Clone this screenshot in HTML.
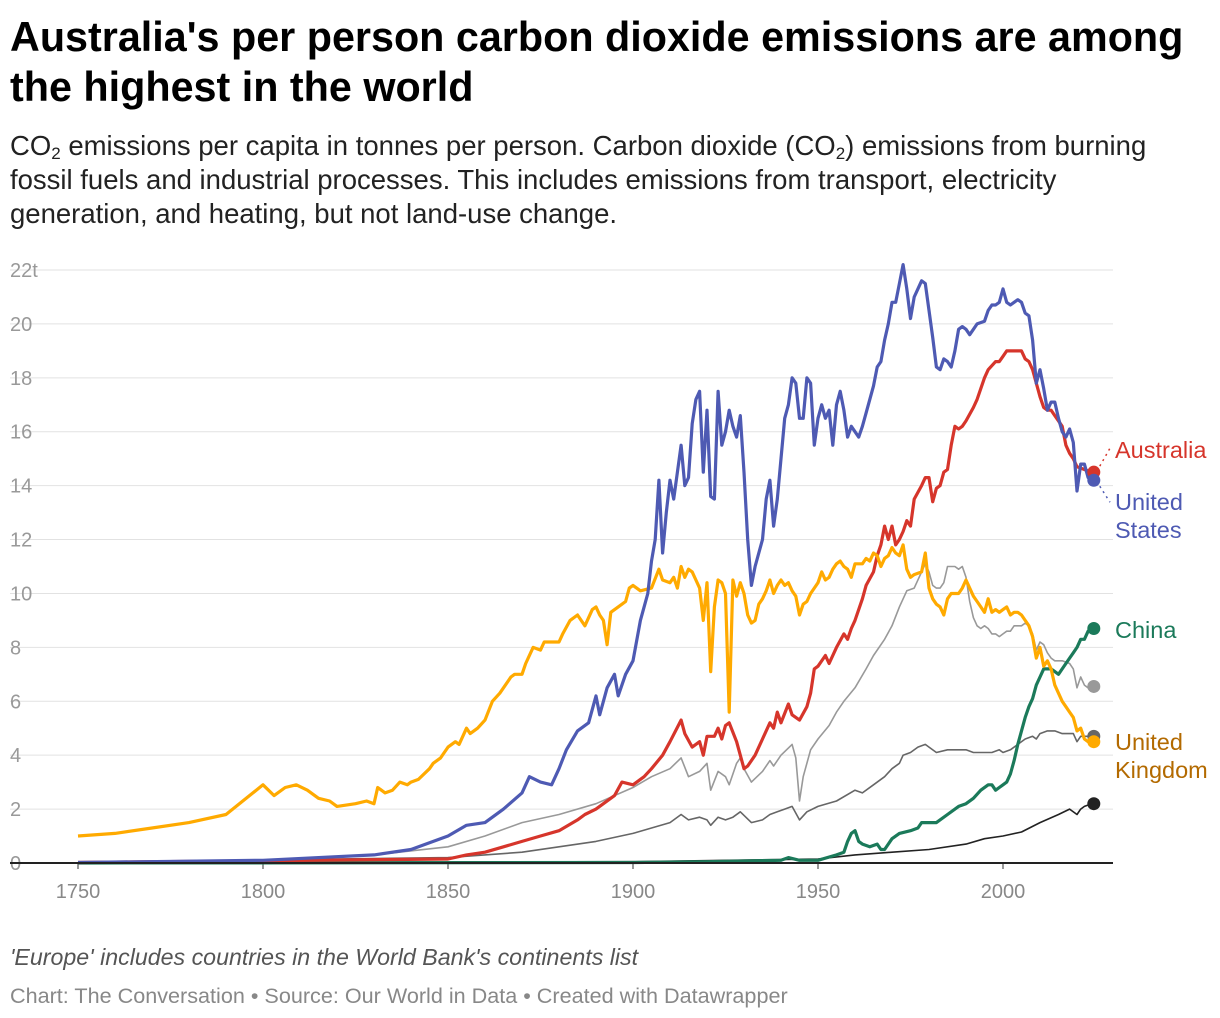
<!DOCTYPE html>
<html><head><meta charset="utf-8">
<style>
body{margin:0;background:#fff;width:1220px;height:1018px;overflow:hidden;font-family:"Liberation Sans",Arial,sans-serif;}
#title{position:absolute;left:10px;top:12px;font-size:41.3px;font-weight:bold;line-height:50px;color:#000;white-space:nowrap}
#sub{position:absolute;left:10px;top:129px;font-size:27.5px;line-height:34px;color:#222;white-space:nowrap}
#sub sub{font-size:17px;line-height:0;vertical-align:-4px}
#note{position:absolute;left:10px;top:944px;font-size:23.2px;font-style:italic;color:#555}
#foot{position:absolute;left:10px;top:983px;font-size:21.6px;color:#888}
svg{position:absolute;left:0;top:0}
</style></head><body>
<div id="title">Australia's per person carbon dioxide emissions are among<br>the highest in the world</div>
<div id="sub">CO<sub>2</sub> emissions per capita in tonnes per person. Carbon dioxide (CO<sub>2</sub>) emissions from burning<br>fossil fuels and industrial processes. This includes emissions from transport, electricity<br>generation, and heating, but not land-use change.</div>
<svg id="chart" width="1220" height="1018"></svg>
<div id="note">'Europe' includes countries in the World Bank's continents list</div>
<div id="foot">Chart: The Conversation • Source: Our World in Data • Created with Datawrapper</div>
<script>
const yTicks=[0,2,4,6,8,10,12,14,16,18,20,22];
const xTicks=[1750,1800,1850,1900,1950,2000];
const seriesNames=["Europe","World","Asia","China","Australia","United Kingdom","United States"];
const europe=[[1750,0.05],[1800,0.1],[1830,0.3],[1850,0.6],[1860,1.0],[1870,1.5],[1880,1.8],[1890,2.2],[1900,2.8],[1905,3.2],[1910,3.5],[1913,3.9],[1915,3.2],[1918,3.4],[1920,3.7],[1921,2.7],[1923,3.4],[1925,3.2],[1926,2.9],[1928,3.7],[1929,3.9],[1930,3.5],[1932,3.0],[1935,3.4],[1937,3.8],[1938,3.6],[1940,4.0],[1943,4.4],[1944,3.9],[1945,2.3],[1946,3.2],[1948,4.2],[1950,4.6],[1953,5.1],[1955,5.6],[1957,6.0],[1960,6.5],[1963,7.2],[1965,7.7],[1968,8.3],[1970,8.8],[1972,9.5],[1974,10.1],[1976,10.2],[1978,10.8],[1979,11.1],[1980,10.8],[1981,10.3],[1982,10.2],[1983,10.2],[1984,10.4],[1985,11.0],[1987,11.0],[1988,10.9],[1989,11.0],[1990,10.6],[1991,9.7],[1992,9.1],[1993,8.8],[1994,8.7],[1995,8.8],[1996,8.7],[1997,8.5],[1998,8.5],[1999,8.4],[2000,8.5],[2001,8.6],[2002,8.6],[2003,8.8],[2004,8.8],[2005,8.8],[2006,8.9],[2007,8.8],[2008,8.5],[2009,7.9],[2010,8.2],[2011,8.1],[2012,7.8],[2013,7.6],[2014,7.5],[2016,7.5],[2018,7.4],[2019,7.2],[2020,6.5],[2021,6.9],[2022,6.6],[2023,6.5],[2024,6.55]];
const world=[[1750,0.03],[1850,0.2],[1870,0.4],[1880,0.6],[1890,0.8],[1900,1.1],[1905,1.3],[1910,1.5],[1913,1.8],[1915,1.6],[1918,1.7],[1920,1.6],[1921,1.4],[1923,1.7],[1925,1.6],[1927,1.7],[1929,1.9],[1932,1.5],[1935,1.6],[1937,1.8],[1939,1.9],[1941,2.0],[1943,2.1],[1945,1.6],[1947,1.9],[1950,2.1],[1955,2.3],[1960,2.7],[1962,2.6],[1965,2.9],[1968,3.2],[1970,3.5],[1972,3.7],[1973,4.0],[1975,4.1],[1977,4.3],[1979,4.4],[1980,4.3],[1982,4.1],[1985,4.2],[1990,4.2],[1992,4.1],[1997,4.1],[1999,4.2],[2000,4.1],[2002,4.2],[2004,4.4],[2006,4.6],[2008,4.7],[2009,4.6],[2010,4.8],[2012,4.9],[2014,4.9],[2016,4.8],[2019,4.8],[2020,4.5],[2021,4.7],[2024,4.7]];
const asia=[[1750,0.01],[1900,0.05],[1950,0.15],[1960,0.3],[1970,0.4],[1980,0.5],[1990,0.7],[1995,0.9],[2000,1.0],[2005,1.15],[2010,1.5],[2015,1.8],[2018,2.0],[2020,1.8],[2021,2.0],[2022,2.1],[2024,2.2]];
const china=[[1750,0.0],[1900,0.02],[1920,0.05],[1940,0.1],[1942,0.2],[1945,0.1],[1950,0.1],[1955,0.3],[1957,0.4],[1958,0.8],[1959,1.1],[1960,1.2],[1961,0.8],[1962,0.7],[1964,0.6],[1966,0.7],[1967,0.5],[1968,0.5],[1969,0.7],[1970,0.9],[1972,1.1],[1975,1.2],[1977,1.3],[1978,1.5],[1980,1.5],[1982,1.5],[1985,1.8],[1988,2.1],[1990,2.2],[1992,2.4],[1994,2.7],[1996,2.9],[1997,2.9],[1998,2.7],[1999,2.8],[2000,2.9],[2001,3.0],[2002,3.3],[2003,3.8],[2004,4.4],[2005,4.9],[2006,5.4],[2007,5.8],[2008,6.1],[2009,6.6],[2010,6.9],[2011,7.2],[2013,7.2],[2014,7.1],[2015,7.0],[2016,7.2],[2017,7.4],[2018,7.6],[2019,7.8],[2020,8.0],[2021,8.3],[2022,8.3],[2023,8.6],[2024,8.7]];
const australia=[[1750,0.02],[1850,0.15],[1855,0.3],[1860,0.4],[1865,0.6],[1870,0.8],[1875,1.0],[1880,1.2],[1885,1.6],[1887,1.8],[1890,2.0],[1895,2.5],[1897,3.0],[1900,2.9],[1903,3.2],[1905,3.5],[1908,4.0],[1910,4.5],[1913,5.3],[1914,4.8],[1916,4.3],[1918,4.5],[1919,4.0],[1920,4.7],[1922,4.7],[1923,5.0],[1924,4.6],[1925,5.1],[1926,5.2],[1928,4.5],[1930,3.5],[1931,3.6],[1933,4.0],[1935,4.6],[1937,5.2],[1938,5.0],[1939,5.6],[1940,5.2],[1942,5.9],[1943,5.5],[1945,5.3],[1947,5.8],[1948,6.3],[1949,7.2],[1950,7.3],[1952,7.7],[1953,7.4],[1955,8.0],[1957,8.5],[1958,8.3],[1959,8.7],[1960,9.0],[1962,9.8],[1963,10.3],[1965,10.8],[1966,11.4],[1967,11.8],[1968,12.5],[1969,12.0],[1970,12.5],[1971,11.8],[1972,12.0],[1973,12.3],[1974,12.7],[1975,12.5],[1976,13.5],[1978,14.0],[1979,14.3],[1980,14.3],[1981,13.4],[1982,13.9],[1983,14.0],[1984,14.5],[1985,14.6],[1986,15.5],[1987,16.2],[1988,16.1],[1989,16.2],[1990,16.4],[1992,16.9],[1993,17.2],[1995,18.0],[1996,18.3],[1998,18.6],[1999,18.6],[2000,18.8],[2001,19.0],[2005,19.0],[2006,18.7],[2007,18.6],[2008,18.3],[2009,17.8],[2010,17.3],[2011,16.9],[2012,16.8],[2013,16.8],[2014,16.6],[2015,16.4],[2016,16.2],[2017,15.5],[2018,15.2],[2019,15.0],[2020,14.7],[2022,14.6],[2024,14.5]];
const uk=[[1750,1.0],[1760,1.1],[1770,1.3],[1780,1.5],[1790,1.8],[1800,2.9],[1803,2.5],[1806,2.8],[1809,2.9],[1812,2.7],[1815,2.4],[1818,2.3],[1820,2.1],[1825,2.2],[1828,2.3],[1830,2.2],[1831,2.8],[1833,2.6],[1835,2.7],[1837,3.0],[1839,2.9],[1840,3.0],[1842,3.1],[1845,3.5],[1846,3.7],[1848,3.9],[1850,4.3],[1852,4.5],[1853,4.4],[1855,5.0],[1856,4.8],[1858,5.0],[1860,5.3],[1862,6.0],[1864,6.3],[1865,6.5],[1867,6.9],[1868,7.0],[1870,7.0],[1871,7.4],[1873,8.0],[1875,7.9],[1876,8.2],[1880,8.2],[1881,8.5],[1883,9.0],[1885,9.2],[1887,8.8],[1889,9.4],[1890,9.5],[1891,9.2],[1892,9.0],[1893,8.1],[1894,9.3],[1896,9.5],[1898,9.7],[1899,10.2],[1900,10.3],[1902,10.1],[1905,10.2],[1907,10.9],[1908,10.5],[1910,10.4],[1911,10.6],[1912,10.2],[1913,11.0],[1914,10.6],[1915,10.9],[1916,10.8],[1917,10.5],[1918,10.2],[1919,9.0],[1920,10.4],[1921,7.1],[1922,9.5],[1923,10.5],[1924,10.4],[1925,10.0],[1926,5.6],[1927,10.5],[1928,9.9],[1929,10.4],[1930,10.0],[1931,9.2],[1932,8.9],[1933,9.0],[1934,9.6],[1935,9.8],[1936,10.1],[1937,10.5],[1938,10.0],[1939,10.3],[1940,10.5],[1941,10.3],[1942,10.4],[1943,10.1],[1944,9.9],[1945,9.2],[1946,9.6],[1947,9.7],[1948,10.0],[1949,10.2],[1950,10.4],[1951,10.8],[1952,10.5],[1953,10.6],[1954,10.9],[1955,11.1],[1956,11.2],[1957,11.0],[1958,10.9],[1959,10.6],[1960,11.1],[1962,11.1],[1963,11.3],[1964,11.2],[1965,11.5],[1966,11.4],[1967,11.0],[1968,11.3],[1969,11.4],[1970,11.7],[1971,11.5],[1972,11.4],[1973,11.8],[1974,10.9],[1975,10.6],[1976,10.7],[1978,10.8],[1979,11.5],[1980,10.2],[1981,9.8],[1982,9.6],[1983,9.5],[1984,9.2],[1985,9.8],[1986,10.0],[1988,10.0],[1989,10.2],[1990,10.5],[1991,10.2],[1992,9.9],[1993,9.7],[1994,9.5],[1995,9.3],[1996,9.8],[1997,9.3],[1998,9.4],[1999,9.3],[2000,9.4],[2001,9.5],[2002,9.2],[2003,9.3],[2004,9.3],[2005,9.2],[2006,9.0],[2007,8.8],[2008,8.4],[2009,7.6],[2010,8.0],[2011,7.3],[2012,7.5],[2013,7.2],[2014,6.6],[2015,6.3],[2016,6.0],[2017,5.8],[2018,5.6],[2019,5.4],[2020,4.9],[2021,5.0],[2022,4.6],[2023,4.5],[2024,4.5]];
const us=[[1750,0.02],[1800,0.1],[1830,0.3],[1840,0.5],[1850,1.0],[1855,1.4],[1860,1.5],[1865,2.0],[1870,2.6],[1872,3.2],[1875,3.0],[1878,2.9],[1880,3.5],[1882,4.2],[1885,4.9],[1888,5.2],[1890,6.2],[1891,5.5],[1893,6.5],[1895,7.0],[1896,6.2],[1898,7.0],[1900,7.5],[1902,9.0],[1904,10.0],[1905,11.2],[1906,12.0],[1907,14.2],[1908,11.5],[1909,13.0],[1910,14.2],[1911,13.5],[1912,14.5],[1913,15.5],[1914,14.0],[1915,14.3],[1916,16.3],[1917,17.2],[1918,17.5],[1919,14.5],[1920,16.8],[1921,13.6],[1922,13.5],[1923,17.5],[1924,15.5],[1925,16.0],[1926,16.8],[1927,16.2],[1928,15.8],[1929,16.6],[1930,14.5],[1931,12.0],[1932,10.3],[1933,11.0],[1934,11.5],[1935,12.0],[1936,13.5],[1937,14.2],[1938,12.5],[1939,13.5],[1940,15.0],[1941,16.5],[1942,17.0],[1943,18.0],[1944,17.8],[1945,16.5],[1946,16.5],[1947,18.0],[1948,17.8],[1949,15.5],[1950,16.5],[1951,17.0],[1952,16.5],[1953,16.8],[1954,15.5],[1955,17.0],[1956,17.5],[1957,16.8],[1958,15.8],[1959,16.2],[1960,16.0],[1961,15.8],[1962,16.2],[1963,16.7],[1964,17.2],[1965,17.7],[1966,18.4],[1967,18.6],[1968,19.4],[1969,20.0],[1970,20.8],[1971,20.8],[1972,21.5],[1973,22.2],[1974,21.3],[1975,20.2],[1976,21.0],[1977,21.3],[1978,21.6],[1979,21.5],[1980,20.5],[1981,19.5],[1982,18.4],[1983,18.3],[1984,18.7],[1985,18.6],[1986,18.4],[1987,19.0],[1988,19.8],[1989,19.9],[1990,19.8],[1991,19.6],[1992,19.8],[1993,20.0],[1995,20.1],[1996,20.5],[1997,20.7],[1998,20.7],[1999,20.8],[2000,21.3],[2001,20.8],[2002,20.7],[2003,20.8],[2004,20.9],[2005,20.8],[2006,20.4],[2007,20.3],[2008,19.4],[2009,17.8],[2010,18.3],[2011,17.6],[2012,16.8],[2013,17.1],[2014,17.1],[2015,16.5],[2016,16.0],[2017,15.8],[2018,16.1],[2019,15.6],[2020,13.8],[2021,14.8],[2022,14.8],[2023,14.3],[2024,14.2]];

const NS="http://www.w3.org/2000/svg";
const svg=document.getElementById('chart');
const x0=78,x1=1003,y0=863,y22=270;
const X=yr=>x0+(yr-1750)*(x1-x0)/250;
const Y=v=>y0-v*(y0-y22)/22;
function mk(t,a){const e=document.createElementNS(NS,t);for(const k in a)e.setAttribute(k,a[k]);svg.appendChild(e);return e;}
yTicks.forEach(v=>{
  if(v>0){const g=mk('line',{x1:10,x2:1113,y1:Y(v),y2:Y(v),stroke:'#e2e2e2','stroke-width':1});
  
  }
  const t=mk('text',{x:10,y:Y(v)+7,'font-size':20,fill:'#999','font-family':'Liberation Sans, sans-serif'});
  t.textContent=v===22?'22t':String(v);
  
  
});
xTicks.forEach(yr=>{
  const tk=mk('line',{x1:X(yr),x2:X(yr),y1:y0,y2:y0+6,stroke:'#333','stroke-width':1});
  
  
  const t=mk('text',{x:X(yr),y:y0+35,'font-size':20,fill:'#888','text-anchor':'middle','font-family':'Liberation Sans, sans-serif'});
  t.textContent=String(yr);
  
  
});
const styles=[[europe,'#999',1.6,'europe'],[world,'#666',1.6,'world'],[asia,'#222',1.6,'asia'],[china,'#1b7a5a',3.2,'china'],[australia,'#d6352b',3.2,'australia'],[uk,'#ffaa00',3.2,'united-kingdom'],[us,'#4e5ab3',3.2,'united-states']];
styles.forEach(([d,c,w,n])=>{
  const p=mk('path',{d:d.map((q,i)=>(i?'L':'M')+X(q[0]).toFixed(1)+','+Y(q[1]).toFixed(1)).join(''),fill:'none',stroke:c,'stroke-width':w,'stroke-linejoin':'round'});
  
  
});
const ax=mk('line',{x1:10,x2:1113,y1:y0,y2:y0,stroke:'#222','stroke-width':2});


styles.forEach(([d,c,w,n])=>{
  const q=d[d.length-1];
  const ci=mk('circle',{cx:X(q[0])+2,cy:Y(q[1]),r:6.5,fill:c});
  
  
});
const au=australia[australia.length-1], usl=us[us.length-1];
const l1=mk('path',{d:`M${X(2024)+8},${Y(au[1])-6}L1110,${Y(au[1])-24}`,stroke:'#d6352b','stroke-dasharray':'2,4','stroke-width':1.5});


const l2=mk('path',{d:`M${X(2024)+8},${Y(usl[1])+6}L1110,${Y(usl[1])+22}`,stroke:'#4e5ab3','stroke-dasharray':'2,4','stroke-width':1.5});


const labels=[['Australia','#d6352b',458,'label-australia'],['United','#4e5ab3',510,'label-united-states'],['States','#4e5ab3',538,'label-united-states-2'],['China','#1b7a5a',638,'label-china'],['United','#b36a00',750,'label-united-kingdom'],['Kingdom','#b36a00',778,'label-united-kingdom-2']];
labels.forEach(([s,c,y,n])=>{
  const t=mk('text',{x:1115,y:y,'font-size':23.5,fill:c,'font-family':'Liberation Sans, sans-serif'});
  t.textContent=s;
  
  
});
</script>
</body></html>
